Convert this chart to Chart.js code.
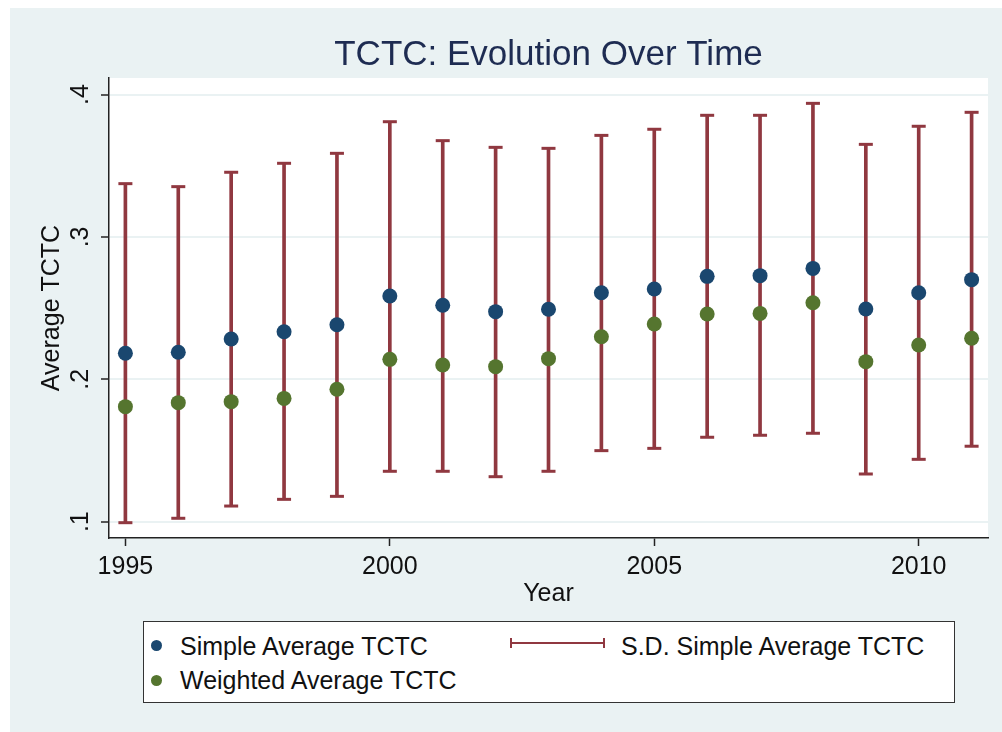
<!DOCTYPE html>
<html>
<head>
<meta charset="utf-8">
<script src="https://cdn.jsdelivr.net/npm/chart.js@4.4.0/dist/chart.umd.min.js"></script>
<style>
  html, body { margin: 0; padding: 0; background: #fff; }
  #wrap { position: relative; width: 1002px; height: 732px; overflow: hidden; }
  #myChart { position: absolute; left: 0; top: 0; }
  .legend {
    position: absolute; left: 143px; top: 621px; width: 810px; height: 80px;
    border: 1.5px solid #333; background: #fff;
    font-family: "Liberation Sans", Arial, sans-serif; font-size: 25px; color: #111;
  }
  .legend span { position: absolute; line-height: 30px; white-space: nowrap; }
  .dot { position: absolute; width: 11px; height: 11px; border-radius: 50%; }
  .sd { position: absolute; left: 366px; top: 16px; width: 91px; height: 10px;
        border-left: 2px solid #903840; border-right: 2px solid #903840; }
  .sd::after { content: ""; position: absolute; left: 0; right: 0; top: 4px; height: 2px; background: #903840; }
</style>
</head>
<body>
<div id="wrap">
  <canvas id="myChart" width="1002" height="732"></canvas>
  <div class="legend">
    <div class="dot" style="left:7px; top:18px; background:#1a476f;"></div>
    <span style="left:36px; top:9px;">Simple Average TCTC</span>
    <div class="sd"></div>
    <span style="left:477px; top:9px;">S.D. Simple Average TCTC</span>
    <div class="dot" style="left:7px; top:53px; background:#55752f;"></div>
    <span style="left:36px; top:43px;">Weighted Average TCTC</span>
  </div>
</div>
<script>
let years = [1995, 1996, 1997, 1998, 1999, 2000, 2001, 2002, 2003, 2004, 2005, 2006, 2007, 2008, 2009, 2010, 2011];
let simpleAvg = [0.2183, 0.2190, 0.2283, 0.2334, 0.2383, 0.2585, 0.2520, 0.2475, 0.2492, 0.2608, 0.2634, 0.2723, 0.2728, 0.2779, 0.2494, 0.2608, 0.2700];
let weightedAvg = [0.1808, 0.1836, 0.1843, 0.1866, 0.1930, 0.2140, 0.2100, 0.2089, 0.2145, 0.2299, 0.2388, 0.2459, 0.2463, 0.2538, 0.2124, 0.2241, 0.2288];
let sdHigh = [0.3374, 0.3353, 0.3454, 0.3517, 0.3587, 0.3809, 0.3676, 0.3629, 0.3622, 0.3713, 0.3756, 0.3854, 0.3854, 0.3938, 0.3650, 0.3777, 0.3875];
let sdLow = [0.0993, 0.1024, 0.1110, 0.1157, 0.1178, 0.1354, 0.1354, 0.1316, 0.1354, 0.1499, 0.1515, 0.1593, 0.1607, 0.1621, 0.1335, 0.1438, 0.1530];

let xTicks = [1995, 2000, 2005, 2010];
let yTicks = [0.1, 0.2, 0.3, 0.4];

let fontFam = '"Liberation Sans", Arial, sans-serif';
let red = "#903840";
let blue = "#1a476f";
let green = "#55752f";

let bgPlugin = {
  id: "bg",
  beforeDraw(chart) {
    let ctx = chart.ctx;
    let a = chart.chartArea;
    ctx.save();
    ctx.fillStyle = "#fff";
    ctx.fillRect(0, 0, chart.width, chart.height);
    ctx.fillStyle = "#eaf2f3";
    ctx.fillRect(10, 8, chart.width - 10, chart.height - 8);
    ctx.fillStyle = "#fff";
    ctx.fillRect(a.left, a.top, a.right - a.left, a.bottom - a.top);
    ctx.restore();
  },
};

let caps = [];
for (let i = 0; i < years.length; i++) {
  caps.push({ x: years[i], y: sdLow[i] });
  caps.push({ x: years[i], y: sdHigh[i] });
}

let mychart = document.getElementById("myChart").getContext("2d");
let chart = new Chart(mychart, {
  type: "scatter",
  data: {
    datasets: [
      {
        type: "bar",
        label: "S.D. Simple Average TCTC",
        data: years.map((y, i) => ({ x: y, y: [sdLow[i], sdHigh[i]] })),
        backgroundColor: red,
        barThickness: 3,
        order: 3,
      },
      {
        label: "caps",
        data: caps,
        pointStyle: "line",
        pointRadius: 7,
        borderWidth: 3,
        borderColor: red,
        order: 2,
      },
      {
        label: "Simple Average TCTC",
        data: years.map((y, i) => ({ x: y, y: simpleAvg[i] })),
        pointRadius: 7.5,
        borderWidth: 0,
        backgroundColor: blue,
        order: 1,
      },
      {
        label: "Weighted Average TCTC",
        data: years.map((y, i) => ({ x: y, y: weightedAvg[i] })),
        pointRadius: 7.5,
        borderWidth: 0,
        backgroundColor: green,
        order: 1,
      },
    ],
  },
  options: {
    responsive: false,
    animation: false,
    devicePixelRatio: 1,
    layout: { padding: { left: 0, right: 14, top: 0, bottom: 121 } },
    plugins: {
      legend: { display: false },
      tooltip: { enabled: false },
      title: {
        display: true,
        fullSize: false,
        text: "TCTC: Evolution Over Time",
        color: "#1e2c52",
        font: { family: fontFam, size: 35, weight: "normal" },
        padding: { top: 34, bottom: 2 },
      },
    },
    scales: {
      x: {
        type: "linear",
        min: 1994.69,
        max: 2011.31,
        offset: false,
        afterBuildTicks: (s) => { s.ticks = xTicks.map((v) => ({ value: v })); },
        afterFit: (s) => { s.height = 73; },
        ticks: {
          padding: 6,
          maxRotation: 0,
          autoSkip: false,
          color: "#111",
          font: { family: fontFam, size: 25 },
          callback: (v) => String(v),
        },
        grid: { offset: false, drawOnChartArea: false, tickColor: "#222", tickLength: 8, tickWidth: 1.5 },
        border: { color: "#222", width: 1.5 },
        title: {
          display: true,
          text: "Year",
          color: "#111",
          font: { family: fontFam, size: 25 },
          padding: { top: 0, bottom: 1.5 },
        },
      },
      y: {
        type: "linear",
        min: 0.08855,
        max: 0.4116,
        afterBuildTicks: (s) => { s.ticks = yTicks.map((v) => ({ value: v })); },
        afterFit: (s) => { s.width = 109; },
        ticks: {
          minRotation: 90,
          maxRotation: 90,
          crossAlign: "center",
          padding: 9,
          color: "#111",
          font: { family: fontFam, size: 25 },
          callback: (v) => String(v).replace(/^0/, ""),
        },
        grid: { color: "#eaf2f3", lineWidth: 2, tickColor: "#222", tickLength: 8, tickWidth: 1.5 },
        border: { color: "#222", width: 1.5 },
        title: {
          display: true,
          text: "Average TCTC",
          color: "#111",
          font: { family: fontFam, size: 25 },
          padding: { top: 37, bottom: 0 },
        },
      },
    },
  },
  plugins: [bgPlugin],
});
</script>
</body>
</html>
